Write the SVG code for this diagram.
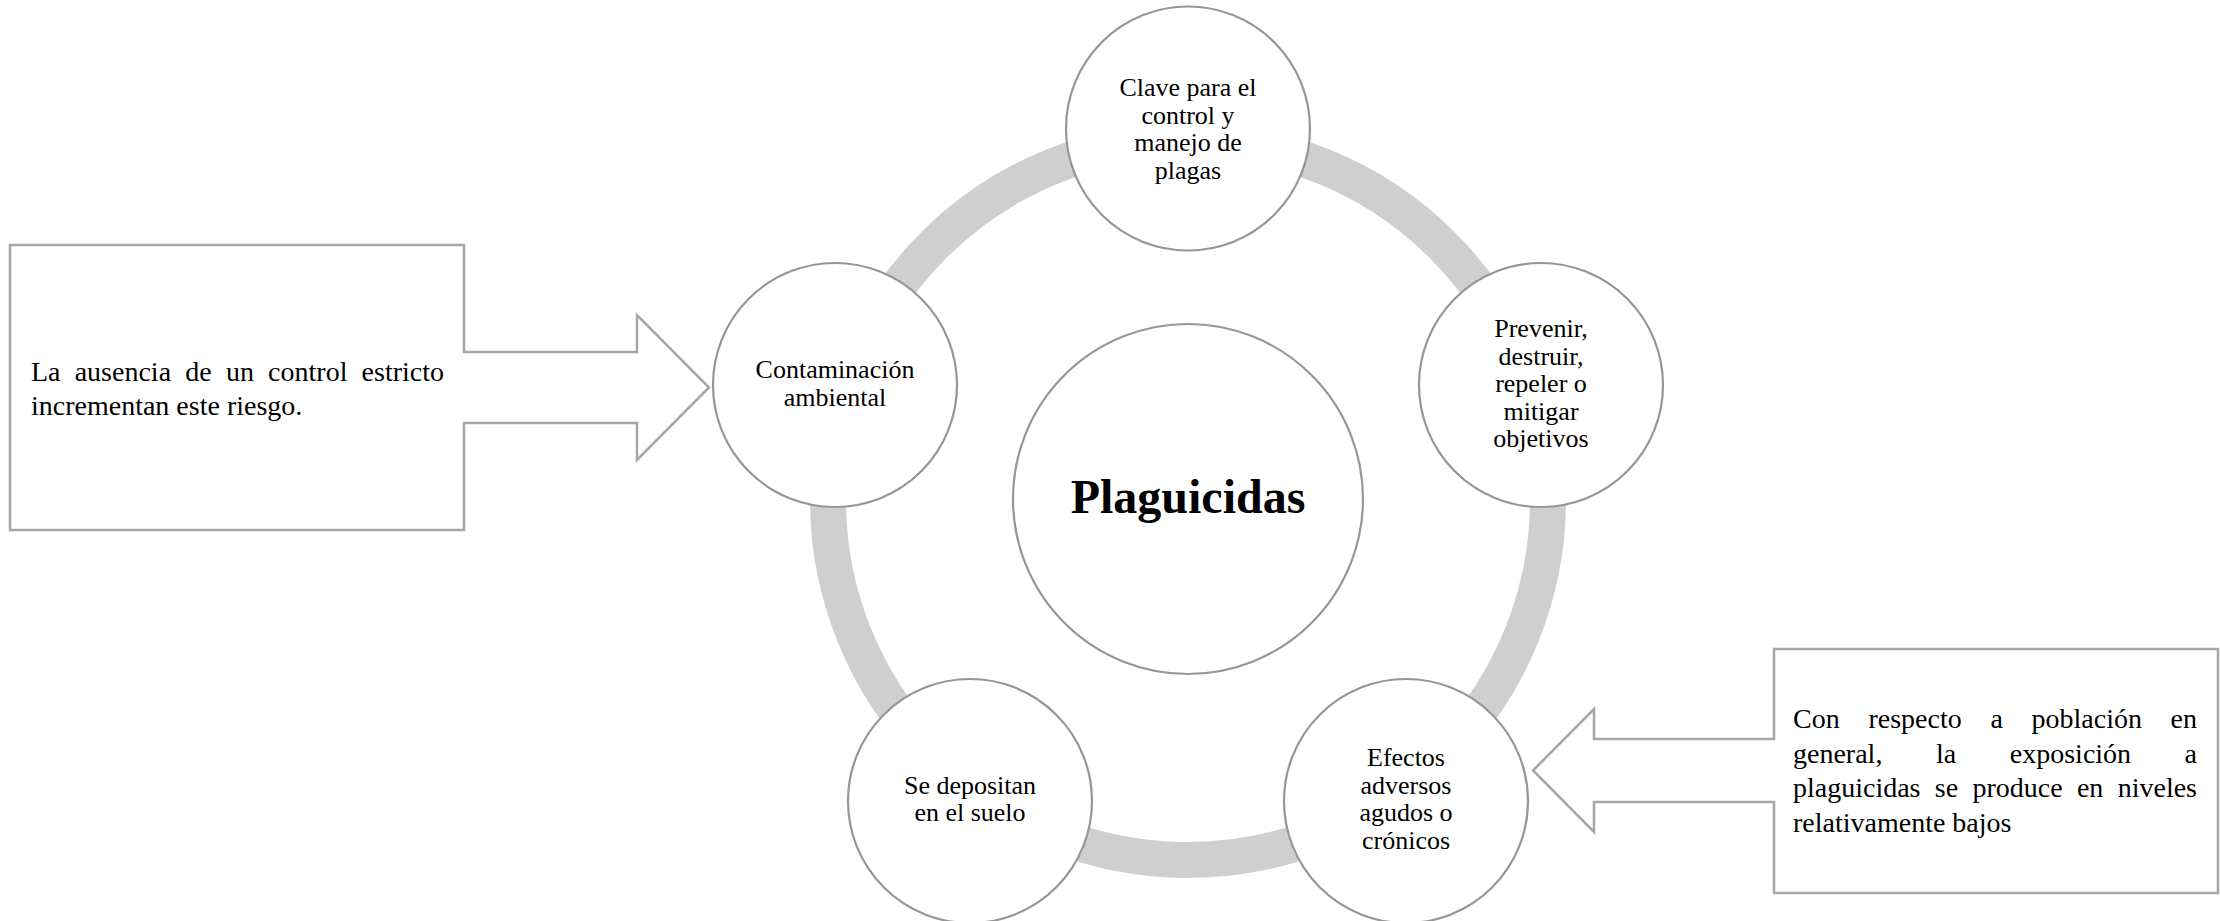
<svg xmlns="http://www.w3.org/2000/svg" width="2220" height="921" viewBox="0 0 2220 921">
<style>
.node{fill:#ffffff;stroke:#969696;stroke-width:2.2}
.box{fill:#ffffff;stroke:#a6a6a6;stroke-width:2.5}
.ring{fill:none;stroke:#cfcfcf;stroke-width:36}
.t{font-family:"Liberation Serif","Times New Roman",serif;font-size:26px;fill:#000;text-anchor:middle}
.b{font-family:"Liberation Serif","Times New Roman",serif;font-size:28px;fill:#000}
.c{font-family:"Liberation Serif","Times New Roman",serif;font-size:48px;font-weight:bold;fill:#000;text-anchor:middle}
</style>
<rect width="2220" height="921" fill="#ffffff"/>
<g id="connectors">
<circle class="ring" cx="1188" cy="500" r="360"/>
</g>
<g id="center">
<circle class="node" cx="1188" cy="499" r="175"/>
<text class="c" x="1188" y="513">Plaguicidas</text>
</g>
<g id="node-top">
<circle class="node" cx="1188" cy="128.5" r="122"/>
<text class="t" x="1188" y="96">Clave para el</text>
<text class="t" x="1188" y="123.5">control y</text>
<text class="t" x="1188" y="151">manejo de</text>
<text class="t" x="1188" y="178.5">plagas</text>
</g>
<g id="node-right">
<circle class="node" cx="1541" cy="385" r="122"/>
<text class="t" x="1541" y="337">Prevenir,</text>
<text class="t" x="1541" y="364.5">destruir,</text>
<text class="t" x="1541" y="392">repeler o</text>
<text class="t" x="1541" y="419.5">mitigar</text>
<text class="t" x="1541" y="447">objetivos</text>
</g>
<g id="node-bottom-right">
<circle class="node" cx="1406" cy="801" r="122"/>
<text class="t" x="1406" y="766">Efectos</text>
<text class="t" x="1406" y="793.5">adversos</text>
<text class="t" x="1406" y="821">agudos o</text>
<text class="t" x="1406" y="848.5">crónicos</text>
</g>
<g id="node-bottom-left">
<circle class="node" cx="970" cy="801" r="122"/>
<text class="t" x="970" y="794">Se depositan</text>
<text class="t" x="970" y="821">en el suelo</text>
</g>
<g id="node-left">
<circle class="node" cx="835" cy="385" r="122"/>
<text class="t" x="835" y="378">Contaminación</text>
<text class="t" x="835" y="406">ambiental</text>
</g>
<g id="callout-left">
<path class="box" d="M10,245 H464 V352 H637 V315 L709,387.5 L637,460 V423 H464 V530 H10 Z"/>
<text class="b" y="380.5"><tspan x="31">La</tspan><tspan x="74.7">ausencia</tspan><tspan x="185.3">de</tspan><tspan x="225.9">un</tspan><tspan x="268.1">control</tspan><tspan x="444" text-anchor="end">estricto</tspan></text>
<text class="b" x="31" y="415">incrementan este riesgo.</text>
</g>
<g id="callout-right">
<path class="box" d="M2218,649 H1774 V739 H1594 V709 L1533,770.5 L1594,832 V802 H1774 V893 H2218 Z"/>
<text class="b" y="728"><tspan x="1793">Con</tspan><tspan x="1868.4">respecto</tspan><tspan x="1990.4">a</tspan><tspan x="2031.5">población</tspan><tspan x="2197" text-anchor="end">en</tspan></text>
<text class="b" y="762.5"><tspan x="1793">general,</tspan><tspan x="1936">la</tspan><tspan x="2009.8">exposición</tspan><tspan x="2197" text-anchor="end">a</tspan></text>
<text class="b" y="797"><tspan x="1793">plaguicidas</tspan><tspan x="1934.8">se</tspan><tspan x="1972.4">produce</tspan><tspan x="2076.9">en</tspan><tspan x="2197" text-anchor="end">niveles</tspan></text>
<text class="b" x="1793" y="831.5">relativamente bajos</text>
</g>
</svg>
